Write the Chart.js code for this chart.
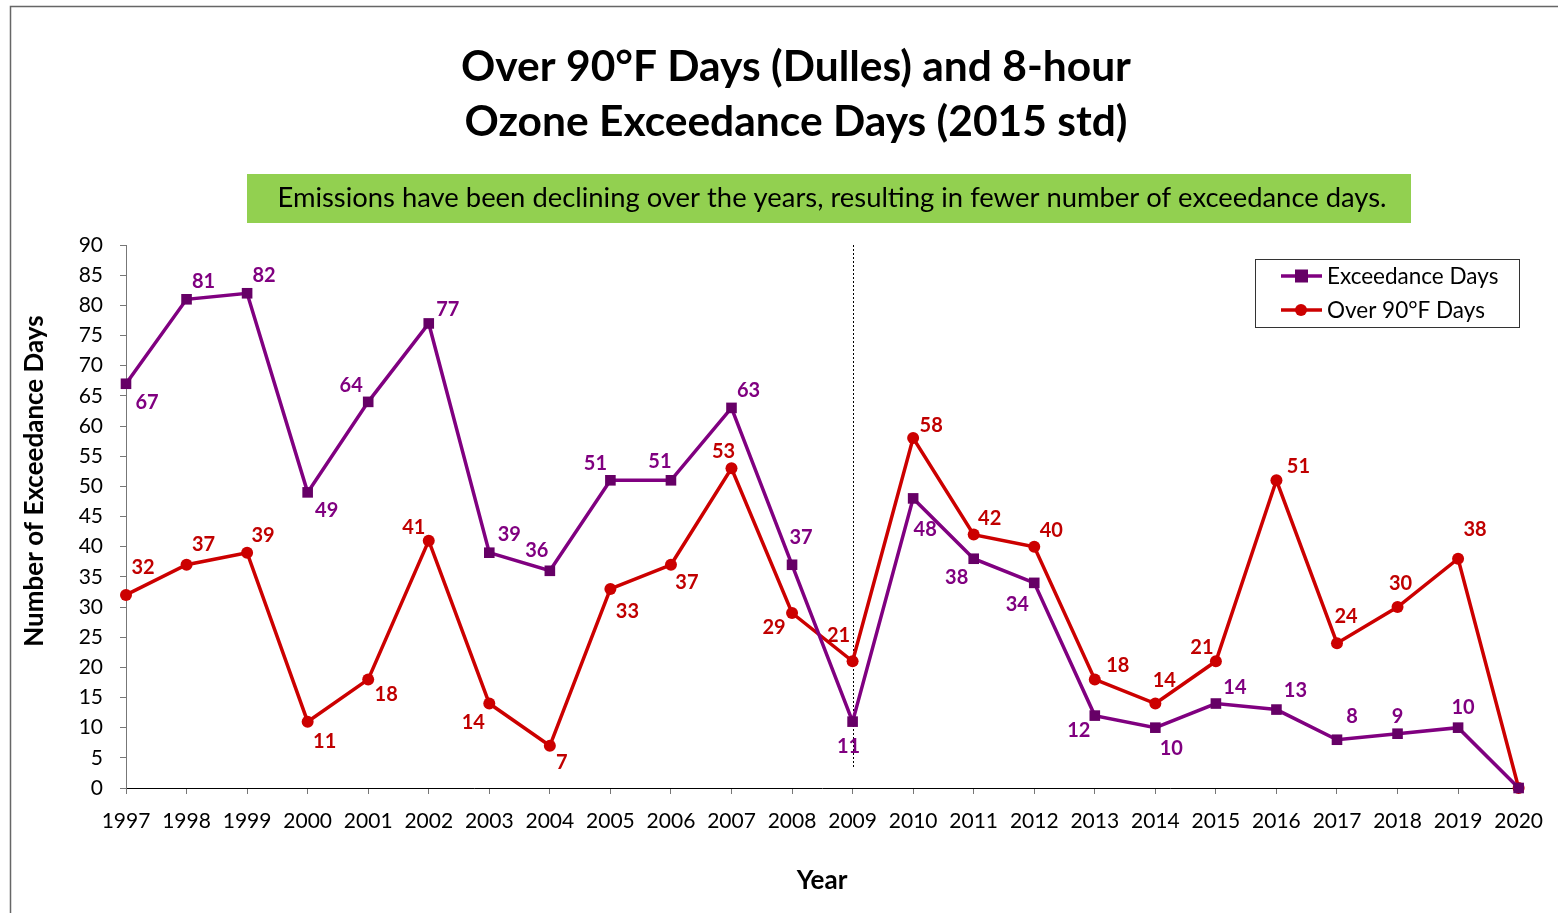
<!DOCTYPE html>
<html><head><meta charset="utf-8">
<script src="https://cdn.jsdelivr.net/npm/chart.js@4/dist/chart.umd.min.js"></script>
<style>html,body{margin:0;padding:0;background:#fff;}canvas{display:block;}</style>
</head><body>
<canvas id="c" width="1558" height="913"></canvas>
<script>
const years = ['1997','1998','1999','2000','2001','2002','2003','2004','2005','2006','2007','2008','2009','2010','2011','2012','2013','2014','2015','2016','2017','2018','2019','2020'];
const exceedanceDays = [67,81,82,49,64,77,39,36,51,51,63,37,11,48,38,34,12,10,14,13,8,9,10,0];
const over90Days = [32,37,39,11,18,41,14,7,33,37,53,29,21,58,42,40,18,14,21,51,24,30,38,0];
const yTicks = {min:0, max:90, step:5};
const titleLines = ['Over 90°F Days (Dulles) and 8-hour','Ozone Exceedance Days (2015 std)'];
const noteText = 'Emissions have been declining over the years, resulting in fewer number of exceedance days.';
const yTitle = 'Number of Exceedance Days';
const xTitle = 'Year';
const dividerYear = '2009';

// label placement (pixel offsets of label centre from point), styling only
const exLabelOff = [[21,19],[17,-18],[17,-18],[19,18],[-17,-16],[19,-14],[20,-18],[-13,-20],[-15,-17],[-11,-19],[17,-17],[9,-27],[-4,25],[12,31],[-17,19],[-17,22],[-16,15],[16,21],[19,-16],[19,-19],[15,-23],[0,-17],[5,-20],null];
const hotLabelOff = [[17,-27],[17,-20],[16,-17],[17,20],[18,15],[-15,-13],[-16,19],[12,17],[17,23],[16,18],[-8,-17],[-18,15],[-14,-26],[18,-13],[16,-16],[17,-16],[23,-14],[9,-23],[-14,-14],[22,-14],[9,-27],[3,-23],[17,-29],null];

const FONT = 'Lato, "Open Sans", sans-serif';
const PURPLE = '#800080', PURPLE_DARK = '#660066', RED = '#CC0000';

const decor = {
  id:'decor',
  beforeDraw(chart){
    const ctx = chart.ctx;
    ctx.save();
    // frame
    ctx.strokeStyle = '#666'; ctx.lineWidth = 1.5;
    ctx.beginPath(); ctx.moveTo(10.5, 913); ctx.lineTo(10.5, 6.5); ctx.lineTo(1558, 6.5); ctx.stroke();
    // titles
    ctx.fillStyle = '#000'; ctx.textAlign = 'center'; ctx.textBaseline = 'middle';
    ctx.font = 'bold 42.5px ' + FONT;
    ctx.fillText(titleLines[0], 796, 67);
    ctx.fillText(titleLines[1], 796, 122);
    // green note box
    ctx.fillStyle = '#92D050';
    ctx.fillRect(247, 174, 1164, 49);
    ctx.fillStyle = '#000';
    ctx.font = '27.4px ' + FONT;
    ctx.fillText(noteText, 832, 198);
    // axis titles
    ctx.font = 'bold 26px ' + FONT;
    ctx.fillText(xTitle, 822, 881);
    ctx.save();
    ctx.translate(35, 481); ctx.rotate(-Math.PI/2);
    ctx.fillText(yTitle, 0, 0);
    ctx.restore();
    // divider
    const xs = chart.scales.x, ys = chart.scales.y;
    const dx = Math.round(xs.getPixelForValue(years.indexOf(dividerYear))) + 0.5;
    ctx.strokeStyle = '#000'; ctx.lineWidth = 1; ctx.setLineDash([2,2]);
    ctx.beginPath(); ctx.moveTo(dx, ys.top); ctx.lineTo(dx, 767); ctx.stroke();
    ctx.restore();
  },
  afterDatasetsDraw(chart){
    const ctx = chart.ctx;
    ctx.save();
    ctx.font = 'bold 20px ' + FONT;
    ctx.textAlign = 'center'; ctx.textBaseline = 'middle';
    const offs = [exLabelOff, hotLabelOff];
    const cols = [PURPLE, '#C00000'];
    chart.data.datasets.forEach((ds, di) => {
      const meta = chart.getDatasetMeta(di);
      meta.data.forEach((pt, i) => {
        const o = offs[di][i];
        if (!o) return;
        ctx.fillStyle = cols[di];
        ctx.fillText(String(ds.data[i]), pt.x + o[0], pt.y + o[1]);
      });
    });
    // legend
    ctx.fillStyle = '#fff';
    ctx.fillRect(1255, 259, 264, 68);
    ctx.strokeStyle = '#333'; ctx.lineWidth = 1;
    ctx.strokeRect(1255.5, 259.5, 264, 68);
    const rows = [276, 310];
    chart.data.datasets.forEach((ds, di) => {
      const y = rows[di];
      ctx.strokeStyle = ds.borderColor; ctx.lineWidth = 3.5;
      ctx.beginPath(); ctx.moveTo(1281, y); ctx.lineTo(1322, y); ctx.stroke();
      ctx.fillStyle = ds.pointBackgroundColor;
      if (ds.pointStyle === 'rect') ctx.fillRect(1295, y-6.5, 13, 13);
      else { ctx.beginPath(); ctx.arc(1301, y, 6, 0, Math.PI*2); ctx.fill(); }
      ctx.fillStyle = '#000'; ctx.textAlign = 'left'; ctx.font = '22.5px ' + FONT;
      ctx.fillText(ds.label, 1327, y + 1);
    });
    ctx.restore();
  }
};

new Chart(document.getElementById('c'), {
  type:'line',
  data:{
    labels: years,
    datasets:[
      {label:'Exceedance Days', data: exceedanceDays, borderColor: PURPLE, backgroundColor: PURPLE_DARK,
       pointBackgroundColor: PURPLE_DARK, pointBorderColor: PURPLE_DARK, pointStyle:'rect', pointRadius:7.5, pointBorderWidth:0,
       borderWidth:3.5, tension:0, clip:false},
      {label:'Over 90°F Days', data: over90Days, borderColor: RED, backgroundColor: RED,
       pointBackgroundColor: RED, pointBorderColor: RED, pointStyle:'circle', pointRadius:6, pointBorderWidth:0,
       borderWidth:3.5, tension:0, clip:false}
    ]
  },
  options:{
    responsive:false, animation:false,
    layout:{padding:{top:245, right:38, left:0, bottom:0}},
    plugins:{legend:{display:false}, title:{display:false}, tooltip:{enabled:false}},
    scales:{
      x:{
        offset:false,
        grid:{drawOnChartArea:false, tickLength:6, color:'#777', offset:false},
        border:{color:'#000', width:1},
        ticks:{color:'#000', font:{family:FONT, size:21}, padding:15, maxRotation:0, autoSkip:false},
        afterFit(s){ s.height = 125; }
      },
      y:{
        min:yTicks.min, max:yTicks.max,
        grid:{drawOnChartArea:false, tickLength:6, color:'#777'},
        border:{color:'#777', width:1},
        ticks:{stepSize:yTicks.step, color:'#000', font:{family:FONT, size:21}, padding:17},
        afterFit(s){ s.width = 126; }
      }
    }
  },
  plugins:[decor]
});
</script>
</body></html>
